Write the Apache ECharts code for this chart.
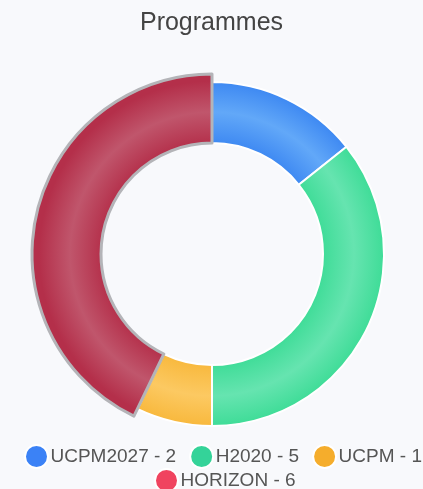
<!DOCTYPE html>
<html>
<head>
<meta charset="utf-8">
<script src="https://cdn.jsdelivr.net/npm/echarts@6/dist/echarts.min.js"></script>
<style>
  html, body { margin: 0; padding: 0; background: #f8f9fc; }
  #chart-container-pie { width: 423px; height: 489px; }
</style>
</head>
<body>
<div id="chart-container-pie"></div>
<script>
// dados do grafico
const categorias = ['UCPM2027', 'H2020', 'UCPM', 'HORIZON'];
const valores = [2, 5, 1, 6];
const coresLegenda = ['#3b82f6', '#34d399', '#f5ad2c', '#f0435f'];
// cor da borda / cor do meio do anel
const coresBorda = ['#3d88f2', '#3edc97', '#f8b83c', '#b42f4a'];
const coresMeio = ['#62a8f8', '#66e4b0', '#fcc962', '#c0566c'];

const centro = [212, 254];
const raioInterno = 111;
const raioExterno = 172;

const gradiente = (borda, meio) => ({
    type: 'radial',
    x: centro[0],
    y: centro[1],
    r: 182,
    global: true,
    colorStops: [
        { offset: 0, color: borda },
        { offset: 0.6, color: borda },
        { offset: 0.78, color: meio },
        { offset: 0.95, color: borda },
        { offset: 1, color: borda }
    ]
});

var dom = document.getElementById('chart-container-pie');
var myChart = echarts.init(dom, null, { renderer: 'canvas' });

let array_dados = [];
categorias.map((nome, i) =>
    array_dados.push({
        name: nome,
        value: valores[i],
        itemStyle: { color: gradiente(coresBorda[i], coresMeio[i]) },
        emphasis: {
            itemStyle: {
                color: gradiente(coresBorda[i], coresMeio[i]),
                borderColor: '#b4b4b8',
                borderWidth: 3
            }
        }
    })
);

const estiloLegenda = {
    icon: 'circle',
    itemWidth: 24,
    itemHeight: 23,
    itemGap: 13,
    padding: 0,
    formatter: (nome) => nome + ' - ' + valores[categorias.indexOf(nome)],
    textStyle: {
        fontFamily: 'Liberation Sans, Arial, sans-serif',
        fontSize: 19,
        color: '#555',
        padding: [0, 0, 0, -3]
    }
};

var option = {
    animation: false,
    backgroundColor: '#f8f9fc',
    color: coresLegenda,
    title: {
        text: 'Programmes',
        left: 'center',
        top: 6,
        textStyle: {
            fontFamily: 'Liberation Sans, Arial, sans-serif',
            fontSize: 25,
            fontWeight: 'normal',
            color: '#444'
        }
    },
    legend: [
        Object.assign({}, estiloLegenda, {
            left: 24,
            top: 444,
            data: categorias.slice(0, 3).map((nome, i) => ({ name: nome, itemStyle: { color: coresLegenda[i] } }))
        }),
        Object.assign({}, estiloLegenda, {
            left: 154,
            top: 468,
            data: [{ name: categorias[3], itemStyle: { color: coresLegenda[3] } }]
        })
    ],
    series: [
        {
            type: 'pie',
            center: centro,
            radius: [raioInterno, raioExterno],
            startAngle: 90,
            avoidLabelOverlap: false,
            label: { show: false },
            labelLine: { show: false },
            itemStyle: { borderColor: '#ffffff', borderWidth: 2 },
            emphasis: { scale: true, scaleSize: 8, label: { show: false } },
            data: array_dados
        }
    ]
};

myChart.setOption(option);
myChart.dispatchAction({ type: 'highlight', seriesIndex: 0, dataIndex: 3 });
window.addEventListener('resize', myChart.resize);
</script>
</body>
</html>
